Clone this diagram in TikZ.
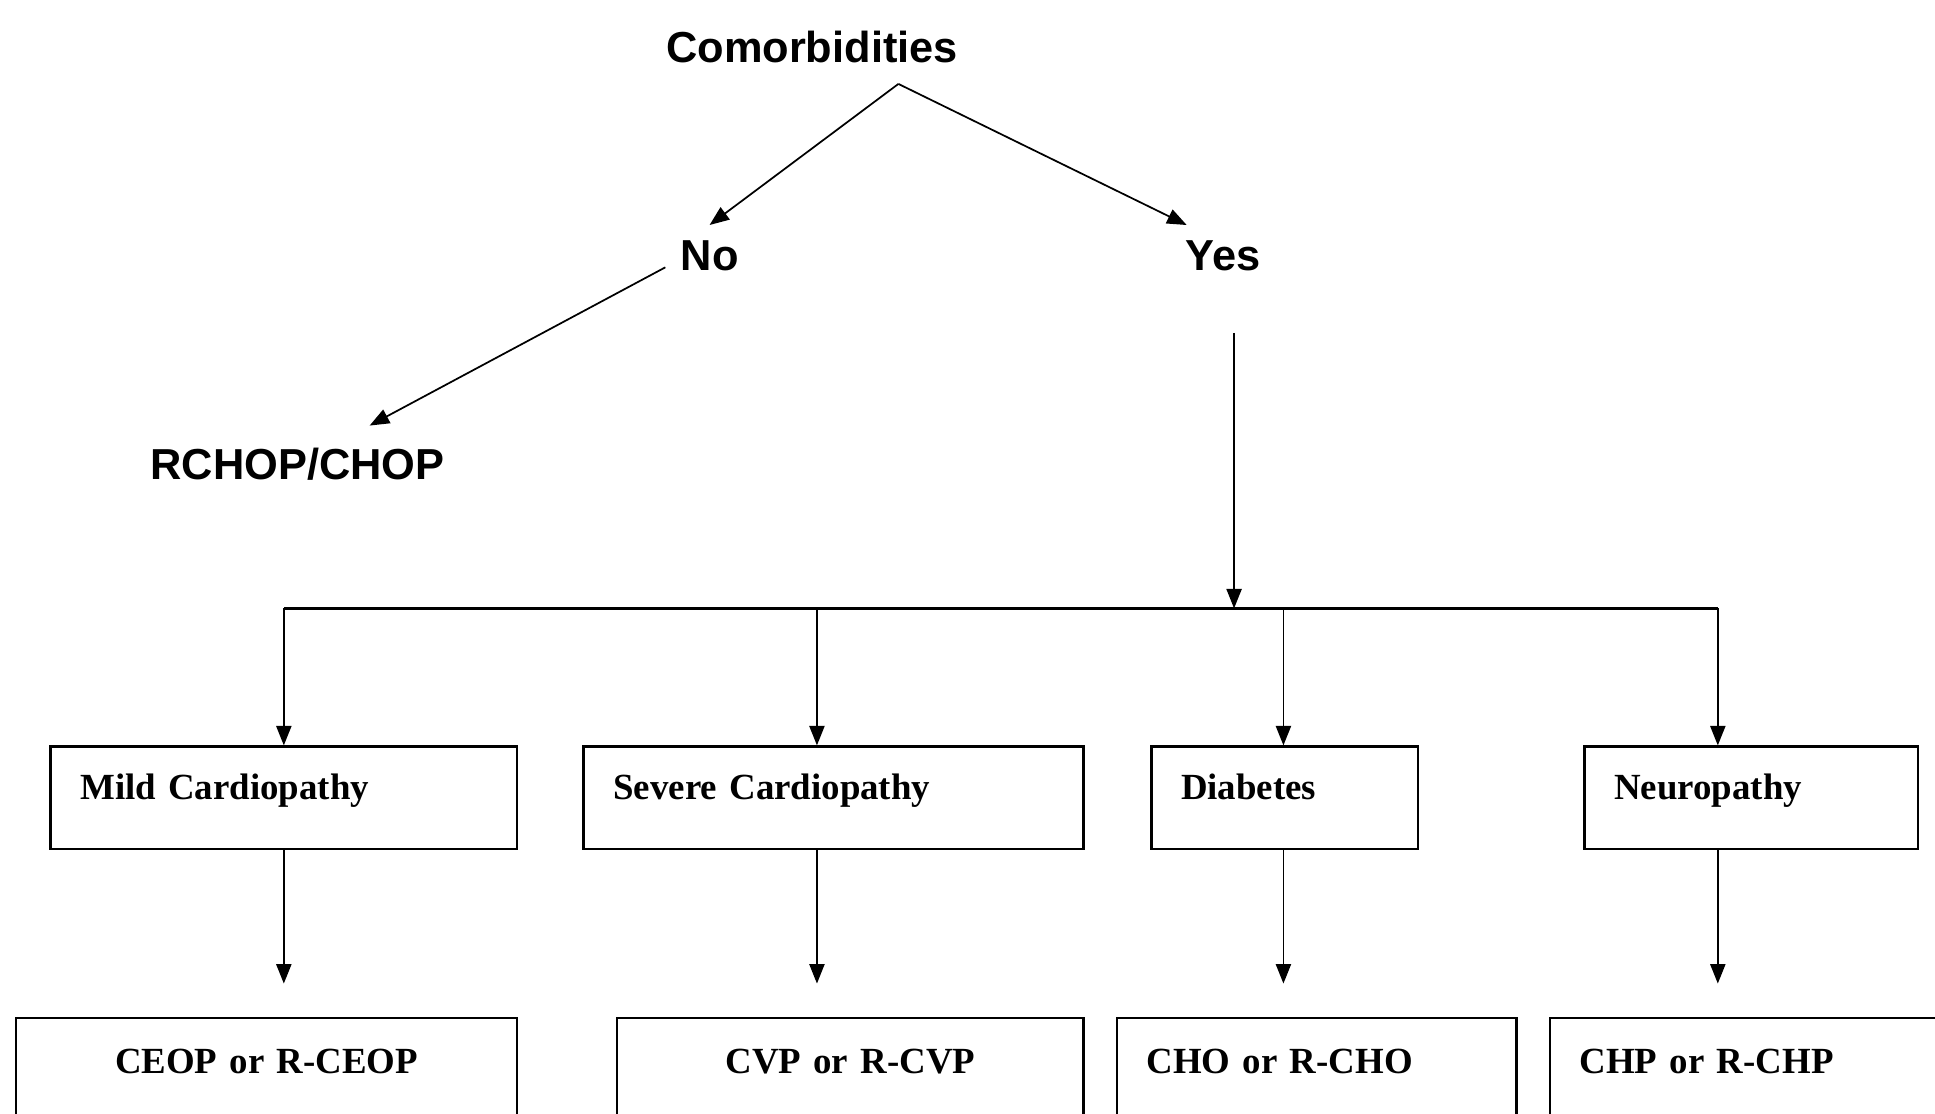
\documentclass[tikz,border=0pt]{standalone}
\usepackage{fontspec}
\setmainfont{Liberation Serif}
\newfontfamily\arialfont{Liberation Sans}
\usetikzlibrary{arrows.meta}
\tikzset{
    head/.style={font=\arialfont\bfseries\fontsize{10}{12}\selectfont},
    cbox/.style={draw, line width=0.6pt, anchor=north west, inner xsep=0.24cm, inner ysep=0pt,
        text width=#1, align=left, font=\bfseries\fontsize{8.5}{10}\selectfont,
        text height=0.43cm, text depth=0.40cm},
    tbox/.style={cbox=#1, text height=0.45cm, text depth=0.9cm},
}
\begin{document}
\begin{tikzpicture}[>={Triangle[length=4.5pt,width=3.5pt]}]
    \useasboundingbox (0, 0) rectangle (15.68, 9.02);
    \clip (0, 0) rectangle (15.68, 9.02);

    % Top of the tree
    \node[head] (como) at (6.58, 8.64) {Comorbidities};
    \coordinate (fork) at (7.28, 8.34);
    \node[head] (no) at (5.75, 6.95) {No};
    \node[head] (yes) at (9.91, 6.95) {Yes};
    \node[head] (rchop) at (2.41, 5.26) {RCHOP/CHOP};

    \draw[->, thin] (fork) -- (no.north);
    \draw[->, thin] (fork) -- (yes.140);
    \draw[->, thin, shorten >=0.12cm] (no.195) -- (rchop.28);

    % Comorbidity boxes
    \node[cbox=3.30cm] (mild) at (0.40, 2.98) {Mild Cardiopathy};
    \node[cbox=3.57cm] (sev) at (4.72, 2.98) {Severe Cardiopathy};
    \node[cbox=1.68cm] (diab) at (9.32, 2.98) {Diabetes};
    \node[cbox=2.22cm] (neuro) at (12.83, 2.98) {Neuropathy};

    % Treatment boxes
    \node[tbox=3.58cm, align=center] (ceop) at (0.12, 0.78) {CEOP or R-CEOP};
    \node[tbox=3.30cm, align=center] (cvp) at (4.99, 0.78) {CVP or R-CVP};
    \node[tbox=2.76cm] (cho) at (9.04, 0.78) {CHO or R-CHO};
    \node[tbox=3.12cm] (chp) at (12.55, 0.78) {CHP or R-CHP};

    % The bar that splits the Yes branch
    \coordinate (bar) at (10.00, 4.09);
    \draw[line width=0.6pt] (2.30, 4.09) -- (13.92, 4.09);
    \draw[->, thin, shorten <=0.38cm] (yes.south -| bar) -- (bar);

    \foreach \x/\n/\m in {2.30/mild/ceop, 6.62/sev/cvp, 10.40/diab/cho, 13.92/neuro/chp} {
        \draw[->, thin] (\x, 4.09) -- (\x, 0 |- \n.north);
        \draw[->, thin, shorten >=0.27cm] (\x, 0 |- \n.south) -- (\x, 0 |- \m.north);
    }
\end{tikzpicture}
\end{document}
